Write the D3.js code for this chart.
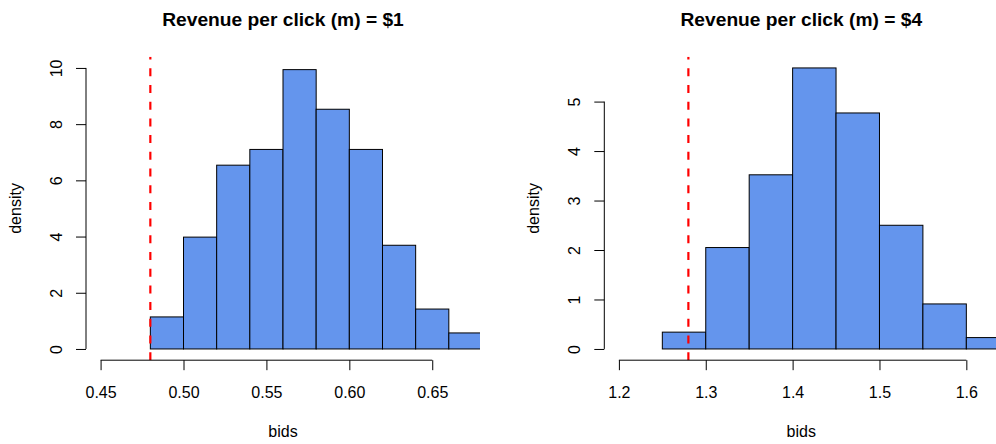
<!DOCTYPE html>
<html>
<head>
<meta charset="utf-8">
<script src="https://cdn.jsdelivr.net/npm/d3@7"></script>
<style>
  body { margin: 0; background: #fff; }
  svg { display: block; }
  text { font-family: "Liberation Sans", Arial, Helvetica, sans-serif; fill: #000; }
</style>
</head>
<body>
<svg id="chart" width="996" height="444"></svg>
<script>
// values
const titles = ["Revenue per click (m) = $1", "Revenue per click (m) = $4"];

const edges1 = [0.48, 0.50, 0.52, 0.54, 0.56, 0.58, 0.60, 0.62, 0.64, 0.66, 0.68];
const density1 = [1.14, 3.98, 6.54, 7.10, 9.94, 8.53, 7.10, 3.69, 1.42, 0.57];
const cutoff1 = 0.48;
const xTicks1 = [0.45, 0.50, 0.55, 0.60, 0.65];
const yTicks1 = [0, 2, 4, 6, 8, 10];
const xlim1 = [0.45, 0.67];
const ylim1 = [0, 10];

const edges2 = [1.25, 1.30, 1.35, 1.40, 1.45, 1.50, 1.55, 1.60, 1.65];
const density2 = [0.34, 2.05, 3.52, 5.68, 4.77, 2.50, 0.91, 0.23];
const cutoff2 = 1.28;
const xTicks2 = [1.2, 1.3, 1.4, 1.5, 1.6];
const yTicks2 = [0, 1, 2, 3, 4, 5];
const xlim2 = [1.2, 1.62];
const ylim2 = [0, 5.68];

const svg = d3.select("#chart");

// R style: pad limits by 4% each side
function pad(lim) {
  const d = (lim[1] - lim[0]) * 0.04;
  return [lim[0] - d, lim[1] + d];
}

function drawPanel(id, opt) {
  const top = 56.7, bottom = 360.2;
  const x = d3.scaleLinear().domain(pad(opt.xlim)).range([opt.left, opt.right]);
  const y = d3.scaleLinear().domain(pad(opt.ylim)).range([bottom, top]);

  const g = svg.append("g").attr("class", "panel-" + id);

  g.append("clipPath").attr("id", "clip" + id)
    .append("rect")
    .attr("x", opt.left).attr("y", top)
    .attr("width", opt.right - opt.left).attr("height", bottom - top);

  const bins = opt.density.map((d, i) => ({ x0: opt.edges[i], x1: opt.edges[i + 1], d: d }));

  g.append("g").attr("clip-path", "url(#clip" + id + ")")
    .selectAll("rect.bar")
    .data(bins)
    .enter()
    .append("rect")
    .attr("class", "bar")
    .attr("x", d => x(d.x0))
    .attr("y", d => y(d.d))
    .attr("width", d => x(d.x1) - x(d.x0))
    .attr("height", d => y(0) - y(d.d))
    .attr("fill", "#6495ED")
    .attr("stroke", "#000")
    .attr("stroke-width", 1);

  // cutoff line, dashes start from the bottom like R
  g.append("line")
    .attr("clip-path", "url(#clip" + id + ")")
    .attr("x1", x(opt.cutoff)).attr("x2", x(opt.cutoff))
    .attr("y1", bottom).attr("y2", top)
    .attr("stroke", "#ff0000")
    .attr("stroke-width", 2.2)
    .attr("stroke-dasharray", "8,8.7");

  // y axis
  const yAxis = g.append("g")
    .attr("transform", "translate(" + opt.left + ",0)")
    .call(d3.axisLeft(y).tickValues(opt.yTicks).tickFormat(d3.format("d")).tickSize(10).tickSizeOuter(0));
  yAxis.select(".domain").remove();
  yAxis.append("line")
    .attr("y1", y(opt.yTicks[0])).attr("y2", y(opt.yTicks[opt.yTicks.length - 1]))
    .attr("stroke", "#000");
  yAxis.selectAll(".tick line").attr("stroke", "#000");
  yAxis.selectAll(".tick text")
    .attr("x", null).attr("dy", null)
    .attr("text-anchor", "middle")
    .attr("transform", "translate(-24,0) rotate(-90)")
    .style("font-size", "16px")
    .style("font-family", "'Liberation Sans', Arial, sans-serif")
    .attr("fill", "#000");

  // x axis
  const xAxis = g.append("g")
    .attr("transform", "translate(0," + bottom + ")")
    .call(d3.axisBottom(x).tickValues(opt.xTicks).tickFormat(opt.fmt).tickSize(10).tickSizeOuter(0));
  xAxis.select(".domain").remove();
  xAxis.append("line")
    .attr("x1", x(opt.xTicks[0])).attr("x2", x(opt.xTicks[opt.xTicks.length - 1]))
    .attr("stroke", "#000");
  xAxis.selectAll(".tick line").attr("stroke", "#000");
  xAxis.selectAll(".tick text")
    .attr("y", 38).attr("dy", null)
    .style("font-size", "16px")
    .style("font-family", "'Liberation Sans', Arial, sans-serif")
    .attr("fill", "#000");

  const cx = (opt.left + opt.right) / 2;
  g.append("text")
    .attr("x", cx).attr("y", 25.5)
    .attr("text-anchor", "middle")
    .style("font-size", "19.2px")
    .style("font-weight", "bold")
    .text(opt.title);

  g.append("text")
    .attr("x", cx).attr("y", 437)
    .attr("text-anchor", "middle")
    .style("font-size", "16px")
    .text("bids");

  g.append("text")
    .attr("transform", "translate(" + (opt.left - 65) + "," + (top + bottom) / 2 + ") rotate(-90)")
    .attr("text-anchor", "middle")
    .style("font-size", "16px")
    .text("density");
}

drawPanel(1, {
  left: 86, right: 480, xlim: xlim1, ylim: ylim1,
  edges: edges1, density: density1, cutoff: cutoff1,
  xTicks: xTicks1, yTicks: yTicks1, fmt: d3.format(".2f"), title: titles[0]
});

drawPanel(2, {
  left: 604.3, right: 998.3, xlim: xlim2, ylim: ylim2,
  edges: edges2, density: density2, cutoff: cutoff2,
  xTicks: xTicks2, yTicks: yTicks2, fmt: d3.format(".1f"), title: titles[1]
});
</script>
</body>
</html>
